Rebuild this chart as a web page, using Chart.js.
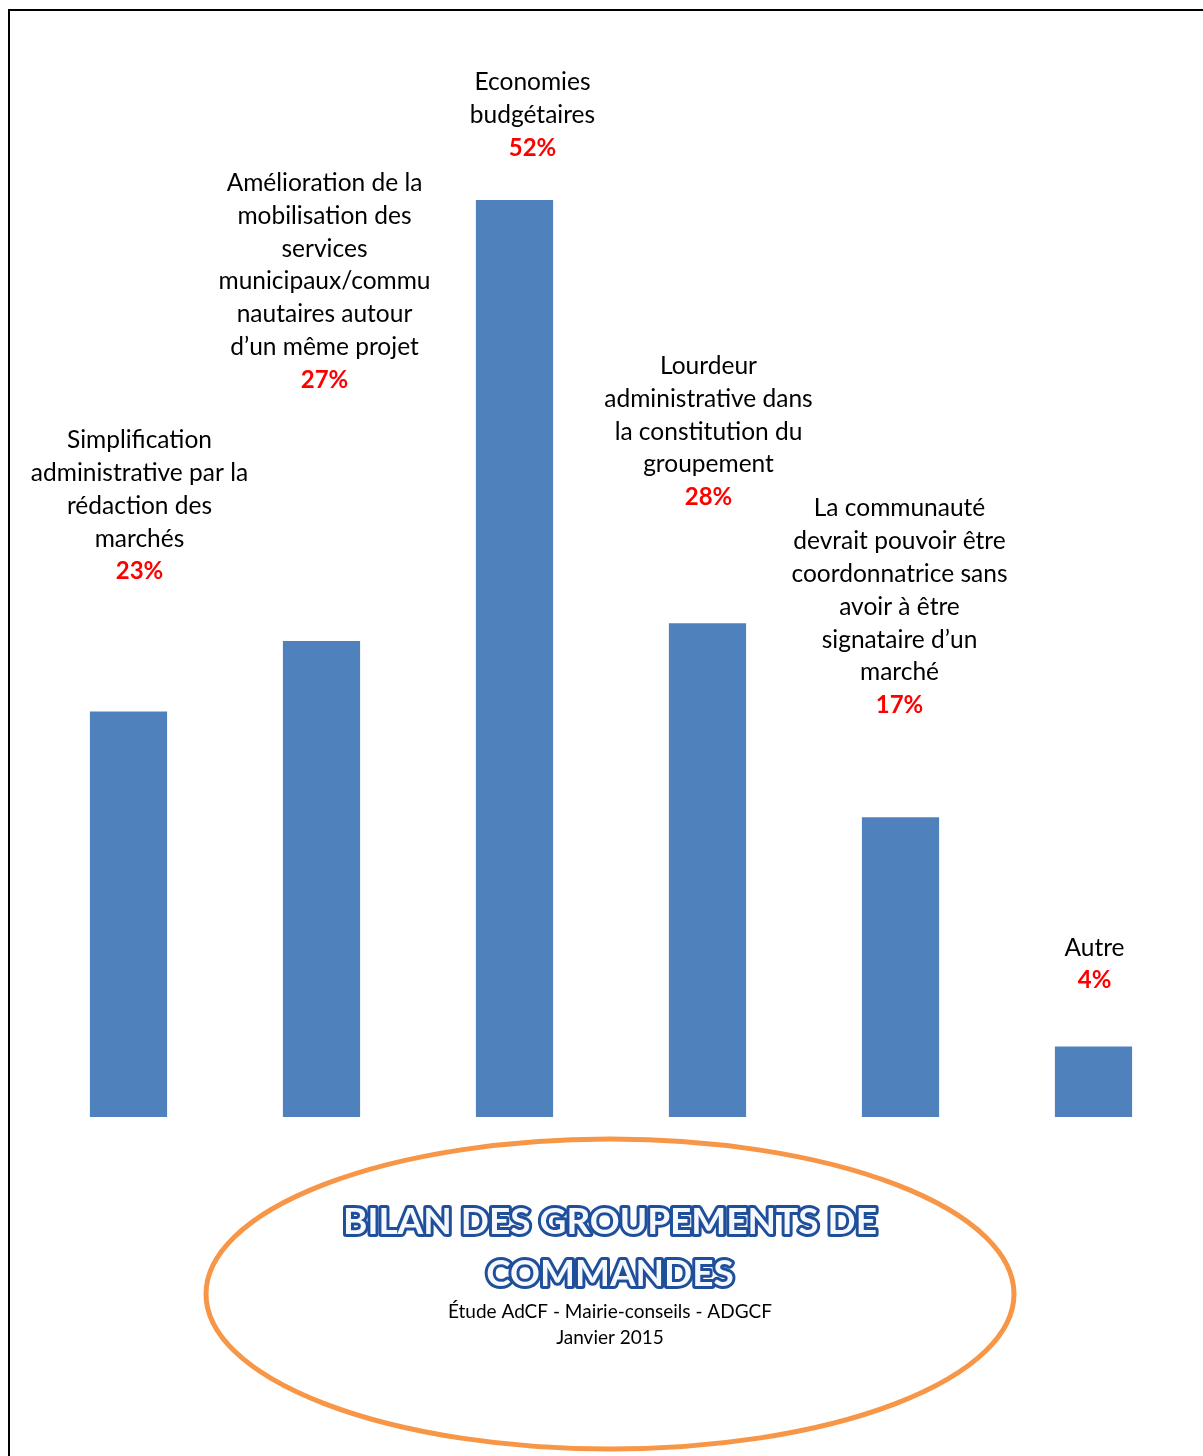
<!DOCTYPE html>
<html>
<head>
<meta charset="utf-8">
<script src="https://cdn.jsdelivr.net/npm/chart.js@4"></script>
<style>
  body { margin: 0; background: #fff; }
  canvas { display: block; }
</style>
</head>
<body>
<canvas id="chart" width="1203" height="1456"></canvas>
<script>
// data
const categories = [
    ["Simplification", "administrative par la", "rédaction des", "marchés"],
    ["Amélioration de la", "mobilisation des", "services", "municipaux/commu", "nautaires autour", "d’un même projet"],
    ["Economies", "budgétaires"],
    ["Lourdeur", "administrative dans", "la constitution du", "groupement"],
    ["La communauté", "devrait pouvoir être", "coordonnatrice sans", "avoir à être", "signataire d’un", "marché"],
    ["Autre"]
];
const values = [23, 27, 52, 28, 17, 4];
const titleLines = ["BILAN DES GROUPEMENTS DE", "COMMANDES"];
const subtitleLines = ["Étude AdCF - Mairie-conseils - ADGCF", "Janvier 2015"];

// gap (px) between top of bar and the percent line, plus small x nudges
const labelGap = [140, 261, 52, 126, 112, 66];
const labelNudge = [11, 3, 18, 1, -1, 1];

const decor = {
    id: 'decor',
    afterDraw(chart) {
        const ctx = chart.ctx;
        const meta = chart.getDatasetMeta(0);
        ctx.save();

        // frame
        ctx.strokeStyle = '#000';
        ctx.lineWidth = 2;
        ctx.beginPath();
        ctx.moveTo(9, 1456);
        ctx.lineTo(9, 10);
        ctx.lineTo(1203, 10);
        ctx.stroke();

        // labels above bars
        ctx.textAlign = 'center';
        ctx.textBaseline = 'middle';
        const lh = 32.8;
        meta.data.forEach((bar, i) => {
            const x = bar.x + labelNudge[i];
            const pctY = bar.y - labelGap[i];
            ctx.font = 'bold 24px Lato';
            ctx.fillStyle = '#ff0000';
            ctx.fillText(values[i] + '%', x, pctY);
            ctx.font = '24.5px Lato';
            ctx.fillStyle = '#000';
            const lines = categories[i];
            lines.forEach((t, k) => {
                ctx.fillText(t, x, pctY - (lines.length - k) * lh);
            });
        });

        // ellipse
        ctx.strokeStyle = '#F79646';
        ctx.lineWidth = 5;
        ctx.beginPath();
        ctx.ellipse(610, 1294, 404, 155, 0, 0, Math.PI * 2);
        ctx.stroke();

        // title
        ctx.font = 'bold 37px Lato';
        ctx.lineJoin = 'round';
        titleLines.forEach((t, k) => {
            const y = 1222 + k * 52;
            ctx.strokeStyle = '#1F4E9A';
            ctx.lineWidth = 6;
            ctx.strokeText(t, 610, y);
            ctx.fillStyle = '#f5f8fd';
            ctx.fillText(t, 610, y);
        });

        ctx.font = '19px Lato';
        ctx.fillStyle = '#000';
        subtitleLines.forEach((t, k) => {
            ctx.fillText(t, 610, 1312 + k * 26);
        });
        ctx.restore();
    }
};

new Chart(document.getElementById('chart'), {
    type: 'bar',
    data: {
        labels: categories,
        datasets: [{
            data: values,
            backgroundColor: '#4F81BD',
            borderWidth: 0,
            barPercentage: 0.4,
            categoryPercentage: 1.0
        }]
    },
    options: {
        responsive: false,
        animation: false,
        layout: { padding: { left: 32, right: 13, top: 59, bottom: 339 } },
        plugins: { legend: { display: false }, tooltip: { enabled: false } },
        scales: {
            x: { display: false },
            y: { display: false, min: 0, max: 60 }
        }
    },
    plugins: [decor]
});
</script>
</body>
</html>
